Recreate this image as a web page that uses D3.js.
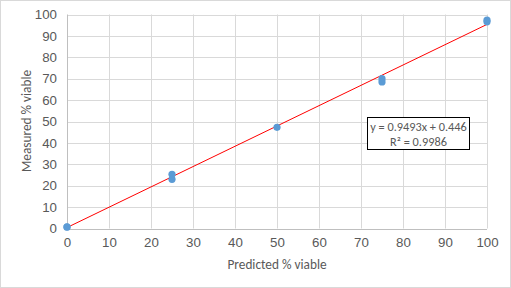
<!DOCTYPE html>
<html lang="en">
<head>
    <meta charset="utf-8"/>
    <style>
        body { margin: 0; background: #fff; }
        svg { display: block; font-family: Carlito, Calibri, "Open Sans", sans-serif; }
        .grid line { stroke: #d9d9d9; stroke-width: 1px; }
        .tick text { fill: #595959; font-size: 13.3px; }
        .axis-title { fill: #595959; font-size: 13.3px; }
        .trend { stroke: #ff0000; stroke-width: 1px; fill: none; }
        circle.pt { fill: #5b9bd5; stroke: none; }
    </style>
    <script src="https://d3js.org/d3.v7.min.js" charset="utf-8"></script>
</head>
<body>
<svg id="chart" width="511" height="288"></svg>
<script>
    // predicted vs measured % viable
    var predicted = [0, 0, 25, 25, 50, 75, 75, 100, 100];
    var measured = [0.8, 0.6, 25.3, 23.0, 47.3, 70.0, 68.5, 97.4, 96.6];
    var xTicks = [0, 10, 20, 30, 40, 50, 60, 70, 80, 90, 100];
    var yTicks = [0, 10, 20, 30, 40, 50, 60, 70, 80, 90, 100];
    var slope = 0.9493, intercept = 0.446;
    var eqnLines = ['y = 0.9493x + 0.446', 'R\u00b2 = 0.9986'];

    var svg = d3.select('#chart');
    svg.append('rect')
        .attr('x', 0.5).attr('y', 0.5)
        .attr('width', 510).attr('height', 287)
        .attr('fill', '#fff').attr('stroke', '#d9d9d9');

    var x = d3.scaleLinear().domain([0, 100]).range([67, 487]);
    var y = d3.scaleLinear().domain([0, 100]).range([228.5, 14.5]);

    var grid = svg.append('g').attr('class', 'grid');
    grid.selectAll('line.v')
        .data(xTicks.slice(1))
        .enter().append('line')
        .attr('x1', function(d) { return Math.round(x(d)) + 0.5; })
        .attr('x2', function(d) { return Math.round(x(d)) + 0.5; })
        .attr('y1', y(100)).attr('y2', y(0));
    grid.selectAll('line.h')
        .data(yTicks.slice(1))
        .enter().append('line')
        .attr('y1', function(d) { return Math.round(y(d)) + 0.5; })
        .attr('y2', function(d) { return Math.round(y(d)) + 0.5; })
        .attr('x1', x(0)).attr('x2', x(100));

    // axes lines
    svg.append('line')
        .attr('x1', x(0)).attr('x2', x(100))
        .attr('y1', Math.round(y(0)) + 0.5).attr('y2', Math.round(y(0)) + 0.5)
        .attr('stroke', '#bfbfbf');
    svg.append('line')
        .attr('x1', Math.round(x(0)) + 0.5).attr('x2', Math.round(x(0)) + 0.5)
        .attr('y1', y(0)).attr('y2', y(100))
        .attr('stroke', '#bfbfbf');

    var xAxis = d3.axisBottom(x).tickValues(xTicks).tickSize(0).tickPadding(9);
    svg.append('g')
        .attr('transform', 'translate(0,' + y(0) + ')')
        .call(xAxis)
        .call(function(g) { g.select('.domain').remove(); });

    var yAxis = d3.axisLeft(y).tickValues(yTicks).tickSize(0).tickPadding(10);
    svg.append('g')
        .attr('transform', 'translate(' + x(0) + ',0)')
        .call(yAxis)
        .call(function(g) { g.select('.domain').remove(); });

    svg.append('text')
        .attr('class', 'axis-title')
        .attr('x', 277).attr('y', 269)
        .attr('text-anchor', 'middle')
        .text('Predicted % viable');
    svg.append('text')
        .attr('class', 'axis-title')
        .attr('transform', 'translate(31,121) rotate(-90)')
        .attr('text-anchor', 'middle')
        .text('Measured % viable');

    svg.append('line')
        .attr('class', 'trend')
        .attr('x1', x(0)).attr('y1', y(intercept))
        .attr('x2', x(100)).attr('y2', y(slope * 100 + intercept));

    svg.selectAll('circle.pt')
        .data(predicted)
        .enter().append('circle')
        .attr('class', 'pt')
        .attr('cx', function(d) { return x(d); })
        .attr('cy', function(d, i) { return y(measured[i]); })
        .attr('r', 3.6);

    // equation label
    var box = svg.append('g').attr('transform', 'translate(367.5,117.5)');
    box.append('rect')
        .attr('width', 102).attr('height', 32)
        .attr('fill', '#fff').attr('stroke', '#000');
    box.selectAll('text')
        .data(eqnLines)
        .enter().append('text')
        .attr('x', 51)
        .attr('y', function(d, i) { return 13 + i * 15; })
        .attr('text-anchor', 'middle')
        .attr('fill', '#595959')
        .attr('font-size', 12.3)
        .text(function(d) { return d; });
</script>
</body>
</html>
